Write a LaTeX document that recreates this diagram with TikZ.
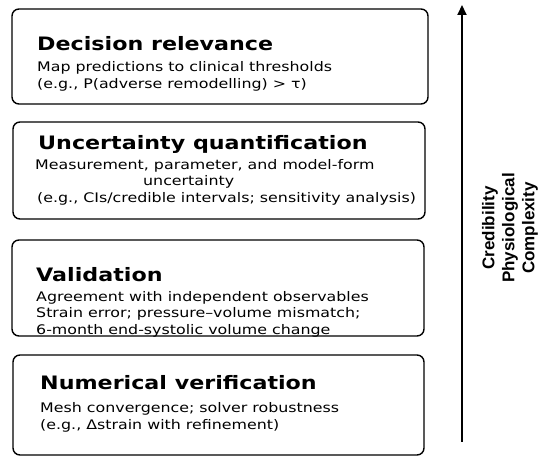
\documentclass[tikz,border=0pt]{standalone}
\usepackage{fontspec}
\newfontfamily\boxfont{DejaVu Sans}[FakeStretch=1.2]
\newfontfamily\axisfont{Liberation Sans}
\usetikzlibrary{arrows.meta}

\tikzset{
	stage/.style={draw, line width=1.4pt, rounded corners=7pt, inner sep=0pt},
	stagetitle/.style={anchor=base west, inner sep=0pt, font={\boxfont\bfseries\fontsize{18.5}{22}\selectfont}},
	stagetext/.style={anchor=base west, inner sep=0pt, align=left, font={\boxfont\fontsize{13.2}{16.5}\selectfont}},
}

\begin{document}
\begin{tikzpicture}[x=1pt, y=-1pt]
	\useasboundingbox (0,0) rectangle (550,462);
	
	% stages, top to bottom (multi-line texts sit on their last baseline)
	\node [stage, minimum width=416pt, minimum height=95pt] (dec) at (220,56.5) {};
	\node [stagetitle] (dect) at (37,51) {Decision relevance};
	\node [stagetext] (decb) at (37,88.5) {Map predictions to clinical thresholds\\(e.g., P(adverse remodelling) > τ)};
	
	\node [stage, minimum width=412pt, minimum height=97pt] (unc) at (219,170.5) {};
	\node [stagetitle] (unct) at (38,150) {Uncertainty quantification};
	\node [stagetext] (uncb1) at (35,169.5) {Measurement, parameter, and model-form};
	\node [stagetext] (uncb2) at (143,186) {uncertainty};
	\node [stagetext] (uncb3) at (37,202.5) {(e.g., CIs/credible intervals; sensitivity analysis)};
	
	\node [stage, minimum width=412pt, minimum height=96pt] (val) at (218,288) {};
	\node [stagetitle] (valt) at (36,281.5) {Validation};
	\node [stagetext] (valb) at (36,334.5) {Agreement with independent observables\\Strain error; pressure–volume mismatch;\\6-month end-systolic volume change};
	
	\node [stage, minimum width=411pt, minimum height=100pt] (num) at (218.5,405) {};
	\node [stagetitle] (numt) at (40,390) {Numerical verification};
	\node [stagetext] (numb) at (40,429.5) {Mesh convergence; solver robustness\\(e.g., Δstrain with refinement)};
	
	% axis
	\coordinate (abot) at (462,442);
	\coordinate (atop) at (462,5);
	\draw [line width=2pt, -{Triangle[length=10pt, width=9pt]}] (abot) -- (atop);
	\node [rotate=90, align=center, inner sep=0pt, font={\axisfont\bfseries\fontsize{17}{20}\selectfont}] (axislbl) at (510,228) {Credibility\\Physiological\\Complexity};
\end{tikzpicture}
\end{document}
